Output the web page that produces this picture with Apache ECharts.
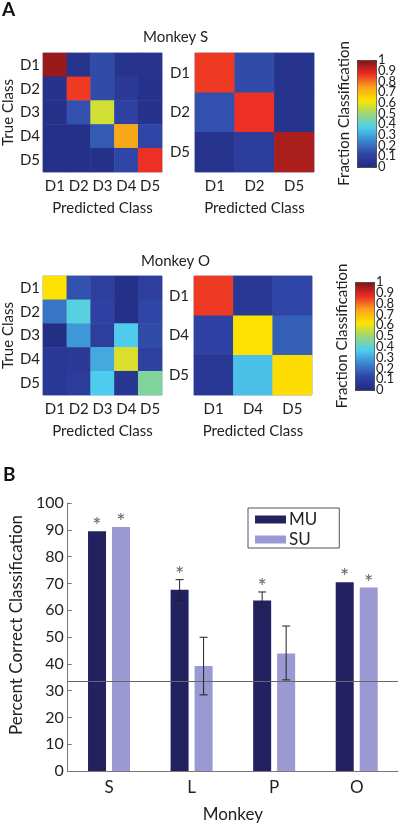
<!DOCTYPE html>
<html>
<head>
<meta charset="utf-8">
<script src="https://cdn.jsdelivr.net/npm/echarts@6/dist/echarts.min.js"></script>
<style>
html,body{margin:0;padding:0;background:#fff;}
#chart{width:400px;height:826px;}
</style>
</head>
<body>
<div id="chart"></div>
<script>
// ---------- Panel A data ----------
const classes5 = ['D1', 'D2', 'D3', 'D4', 'D5'];
const sClasses3 = ['D1', 'D2', 'D5'];
const oClasses3 = ['D1', 'D4', 'D5'];

// rows = true class, columns = predicted class
const sMatrix5 = [
  [0.97, 0.05, 0.14, 0.05, 0.05],
  [0.04, 0.86, 0.14, 0.08, 0.04],
  [0.03, 0.15, 0.57, 0.12, 0.04],
  [0.03, 0.03, 0.17, 0.74, 0.13],
  [0.03, 0.03, 0.03, 0.13, 0.87]
];
const sMatrix3 = [
  [0.86, 0.14, 0.05],
  [0.15, 0.87, 0.05],
  [0.05, 0.09, 0.95]
];
const oMatrix5 = [
  [0.63, 0.15, 0.10, 0.03, 0.10],
  [0.22, 0.39, 0.12, 0.03, 0.13],
  [0.02, 0.28, 0.10, 0.37, 0.14],
  [0.07, 0.08, 0.31, 0.58, 0.11],
  [0.07, 0.09, 0.37, 0.06, 0.46]
];
const oMatrix3 = [
  [0.86, 0.07, 0.13],
  [0.12, 0.63, 0.18],
  [0.07, 0.35, 0.64]
];
const colorbarMin = 0;
const colorbarMax = 1;
const colorbarTicks = ['0', '0.1', '0.2', '0.3', '0.4', '0.5', '0.6', '0.7', '0.8', '0.9', '1'];

// ---------- Panel B data ----------
const monkeys = ['S', 'L', 'P', 'O'];
const muValues = [89.5, 67.6, 63.6, 70.4];
const suValues = [91.0, 39.2, 43.8, 68.5];
const muErrLow = [null, 63.7, 60.8, null];
const muErrHigh = [null, 71.4, 66.8, null];
const suErrLow = [null, 28.4, 34.0, null];
const suErrHigh = [null, 49.9, 54.1, null];
const muSignificant = [1, 1, 1, 1];
const suSignificant = [1, 0, 0, 1];
const chanceLevel = 33.33;
const percentTicks = { min: 0, max: 100, interval: 10 };

// ---------- styling ----------
const FONT = 'Lato';
const TXT = '#222';
const jet = ['#212a7f', '#3043a4', '#3a86d0', '#4ecfee', '#9ad67a', '#fde400', '#f9a31b', '#ed2b24', '#7e1517'];
const MU_COLOR = '#23215f';
const SU_COLOR = '#9b99d3';
const BAR_W = 18, BAR_GAP = 6;

function toCells(m) {
  const out = [];
  m.forEach((row, r) => row.forEach((v, c) => out.push([c, r, v])));
  return out;
}

function hmX(gi, data) {
  return {
    gridIndex: gi, type: 'category', data: data, position: 'bottom',
    axisLine: { show: false }, axisTick: { show: false }, splitLine: { show: false },
    axisLabel: { interval: 0, fontSize: 15, color: TXT, margin: 7, fontFamily: FONT },
    name: 'Predicted Class', nameLocation: 'middle', nameGap: 29,
    nameTextStyle: { fontSize: 15, color: TXT, fontFamily: FONT }
  };
}
function hmY(gi, data, withName, margin) {
  const a = {
    gridIndex: gi, type: 'category', data: data, inverse: true,
    axisLine: { show: false }, axisTick: { show: false }, splitLine: { show: false },
    axisLabel: { interval: 0, fontSize: 15, color: TXT, margin: margin, fontFamily: FONT }
  };
  if (withName) {
    a.name = 'True Class'; a.nameLocation = 'middle'; a.nameGap = 27;
    a.nameTextStyle = { fontSize: 15, color: TXT, fontFamily: FONT };
  }
  return a;
}
function cbAxes(gi) {
  return [
    {
      gridIndex: gi, type: 'category', data: colorbarTicks, boundaryGap: false,
      position: 'right', axisLine: { show: false }, axisTick: { show: false }, splitLine: { show: false },
      axisLabel: { interval: 0, fontSize: 13, color: TXT, margin: 2, fontFamily: FONT }
    },
    {
      gridIndex: gi, type: 'value', min: colorbarMin, max: colorbarMax,
      position: 'left', axisLine: { show: false }, axisTick: { show: false }, splitLine: { show: false },
      axisLabel: { show: false },
      name: 'Fraction Classification', nameLocation: 'middle', nameGap: 5,
      nameTextStyle: { fontSize: 15, color: TXT, fontFamily: FONT }
    }
  ];
}
function heat(gi, m) {
  return {
    type: 'heatmap', xAxisIndex: gi, yAxisIndex: gi, data: toCells(m),
    label: { show: false }, emphasis: { disabled: true }, silent: true
  };
}
function errSeries(name, values, lows, highs, sig, side) {
  return {
    type: 'custom', name: name + ' err', xAxisIndex: 6, yAxisIndex: 8, silent: true, z: 5,
    encode: { x: 0, y: 1 },
    data: values.map((v, i) => [i, v, lows[i] == null ? NaN : lows[i], highs[i] == null ? NaN : highs[i], sig[i]]),
    renderItem: function (params, api) {
      const cat = api.value(0), val = api.value(1), lo = api.value(2), hi = api.value(3), s = api.value(4);
      const off = side * (BAR_W / 2 + BAR_GAP / 2);
      const top = api.coord([cat, val]);
      const x = top[0] + off;
      const children = [];
      let ytop = top[1];
      if (!isNaN(lo) && !isNaN(hi)) {
        const pHi = api.coord([cat, hi]);
        const pLo = api.coord([cat, lo]);
        const st = { stroke: '#222', lineWidth: 1 };
        children.push({ type: 'line', shape: { x1: x, y1: pHi[1], x2: x, y2: pLo[1] }, style: st });
        children.push({ type: 'line', shape: { x1: x - 4, y1: pHi[1], x2: x + 4, y2: pHi[1] }, style: st });
        children.push({ type: 'line', shape: { x1: x - 4, y1: pLo[1], x2: x + 4, y2: pLo[1] }, style: st });
        ytop = Math.min(ytop, pHi[1]);
      }
      if (s) {
        children.push({
          type: 'text',
          style: { x: x, y: ytop + 6, text: '*', textAlign: 'center', textVerticalAlign: 'bottom',
                   fontSize: 22, fontFamily: FONT, fill: '#666' }
        });
      }
      return { type: 'group', children: children };
    }
  };
}

const chart = echarts.init(document.getElementById('chart'), null, { renderer: 'canvas' });
const option = {
  animation: false,
  backgroundColor: '#fff',
  textStyle: { fontFamily: FONT },
  title: [
    { text: 'A', left: 2, top: 0, padding: 0, textStyle: { fontSize: 19, fontWeight: 'bold', color: '#111', fontFamily: FONT } },
    { text: 'Monkey S', left: 143, top: 30, padding: 0, textStyle: { fontSize: 15, fontWeight: 'normal', color: TXT, fontFamily: FONT } },
    { text: 'Monkey O', left: 141, top: 254, padding: 0, textStyle: { fontSize: 15, fontWeight: 'normal', color: TXT, fontFamily: FONT } },
    { text: 'B', left: 3, top: 465, padding: 0, textStyle: { fontSize: 19, fontWeight: 'bold', color: '#111', fontFamily: FONT } }
  ],
  grid: [
    { left: 43, top: 53, width: 119, height: 119, show: true, borderColor: '#9aa6cc', borderWidth: 1 },
    { left: 195, top: 53, width: 119, height: 119, show: true, borderColor: '#9aa6cc', borderWidth: 1 },
    { left: 43, top: 276, width: 119, height: 119, show: true, borderColor: '#9aa6cc', borderWidth: 1 },
    { left: 194, top: 276, width: 118, height: 119, show: true, borderColor: '#9aa6cc', borderWidth: 1 },
    { left: 357, top: 60, width: 19, height: 107 },
    { left: 355, top: 282, width: 19, height: 108 },
    { left: 60, top: 503, width: 338, height: 268 }
  ],
  xAxis: [
    hmX(0, classes5), hmX(1, sClasses3), hmX(2, classes5), hmX(3, oClasses3),
    { gridIndex: 4, type: 'value', show: false },
    { gridIndex: 5, type: 'value', show: false },
    {
      gridIndex: 6, type: 'category', data: monkeys,
      axisLine: { show: true, lineStyle: { color: '#777', width: 1 } },
      axisTick: { show: false },
      axisLabel: { fontSize: 17, color: TXT, margin: 8, fontFamily: FONT },
      name: 'Monkey', nameLocation: 'middle', nameGap: 35,
      nameTextStyle: { fontSize: 17, color: TXT, fontFamily: FONT }
    }
  ],
  yAxis: [
    hmY(0, classes5, true, 3), hmY(1, sClasses3, false, 5), hmY(2, classes5, true, 3), hmY(3, oClasses3, false, 5),
    ...cbAxes(4), ...cbAxes(5),
    {
      gridIndex: 6, type: 'value', min: percentTicks.min, max: percentTicks.max, interval: percentTicks.interval,
      axisLine: { show: true, lineStyle: { color: '#777', width: 1 } },
      axisTick: { show: true, inside: true, length: 4, lineStyle: { color: '#777' } },
      splitLine: { show: false },
      axisLabel: { fontSize: 16, color: TXT, margin: 4, fontFamily: FONT },
      name: 'Percent Correct Classification', nameLocation: 'middle', nameGap: 36,
      nameTextStyle: { fontSize: 17, color: TXT, fontFamily: FONT, padding: [0, 0, 0, 24] }
    }
  ],
  visualMap: [
    {
      type: 'continuous', min: colorbarMin, max: colorbarMax, seriesIndex: [0, 1],
      left: 357, top: 60, itemWidth: 19, itemHeight: 107, padding: 0,
      calculable: false, text: null, inRange: { color: jet }, hoverLink: false,
      borderColor: '#333', borderWidth: 1
    },
    {
      type: 'continuous', min: colorbarMin, max: colorbarMax, seriesIndex: [2, 3],
      left: 355, top: 282, itemWidth: 19, itemHeight: 108, padding: 0,
      calculable: false, text: null, inRange: { color: jet }, hoverLink: false,
      borderColor: '#333', borderWidth: 1
    }
  ],
  legend: {
    data: ['MU', 'SU'], orient: 'vertical', left: 248, top: 508,
    itemWidth: 31, itemHeight: 8, itemGap: 3, icon: 'rect',
    padding: [3, 22, 0, 7],
    borderColor: '#555', borderWidth: 1, backgroundColor: '#fff',
    textStyle: { fontSize: 17, color: TXT, lineHeight: 14, fontFamily: FONT, padding: [0, 0, 0, -2] },
    selectedMode: false
  },
  series: [
    heat(0, sMatrix5), heat(1, sMatrix3), heat(2, oMatrix5), heat(3, oMatrix3),
    {
      type: 'bar', name: 'MU', xAxisIndex: 6, yAxisIndex: 8, data: muValues,
      barWidth: BAR_W, barGap: (BAR_GAP / BAR_W * 100) + '%', itemStyle: { color: MU_COLOR }, silent: true,
      markLine: {
        silent: true, symbol: 'none', label: { show: false },
        lineStyle: { color: '#666', width: 1.2, type: 'solid' },
        data: [{ yAxis: chanceLevel }]
      }
    },
    {
      type: 'bar', name: 'SU', xAxisIndex: 6, yAxisIndex: 8, data: suValues,
      barWidth: BAR_W, itemStyle: { color: SU_COLOR }, silent: true
    },
    errSeries('MU', muValues, muErrLow, muErrHigh, muSignificant, -1),
    errSeries('SU', suValues, suErrLow, suErrHigh, suSignificant, 1)
  ]
};
chart.setOption(option);
</script>
</body>
</html>
